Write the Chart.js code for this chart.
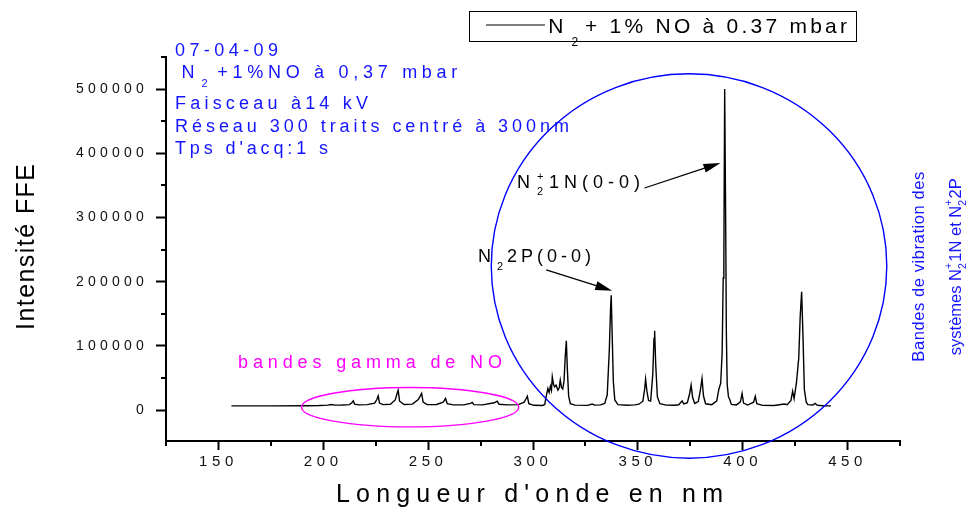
<!DOCTYPE html>
<html>
<head>
<meta charset="utf-8">
<script src="https://cdn.jsdelivr.net/npm/chart.js@4.4.1/dist/chart.umd.min.js"></script>
<style>
html,body{margin:0;padding:0;background:#fff;}
#wrap{width:971px;height:510px;position:relative;}
canvas{display:block;}
</style>
</head>
<body>
<div id="wrap"><canvas id="c" width="971" height="510"></canvas></div>
<script>
// ---------- DATA ----------
const seriesLabel = 'N₂ + 1% NO à 0.37 mbar';
const wavelengths = [
  156.2,175,192,198,202,204,205.5,209,212.5,213.6,214.3,214.9,217,221,224.5,225.6,226.2,226.8,228.5,232,
  234.3,235.2,235.7,236.4,238.5,242.5,245.3,246.4,246.9,247.6,249.5,254,257.2,258.3,259.1,262,267,270.2,271,271.8,
  276,281.5,282.9,283.8,288,293,295.8,296.8,297.3,298,300.5,304.5,305.6,306.2,307.1,307.7,308.3,308.8,309.2,309.8,
  310.3,311.0,311.9,312.5,313.0,313.6,314.2,314.8,315.4,315.9,316.4,317.0,317.8,320,326,328.3,329.4,332.2,334.2,335.4,
  336.4,337.0,337.3,337.7,338.3,339.0,340.5,345,348.5,350.5,352.4,353.2,353.7,354.3,355.1,356.1,357.1,357.7,358.0,358.5,
  359.3,360.5,363.5,367.5,369.5,371.1,371.9,373.6,374.7,375.4,376.1,377.1,378.8,379.8,380.6,381.3,382.3,385.2,387.6,388.6,
  389.5,390.2,390.7,391.0,391.4,391.8,392.2,392.6,393.2,393.8,394.6,397,398.9,399.7,400.4,402.3,405.2,406.0,406.7,409.5,
  415,419.9,421.2,423.0,423.8,424.5,425.6,426.7,427.4,428.1,428.7,429.4,430.3,431.1,433.4,434.5,435.6,438.5,442.1
];
const intensities = [
  6700,6700,6800,7200,7800,8800,7800,8000,8600,11500,14500,9500,8200,8600,11000,17000,22300,11000,8700,9300,
  16000,26000,31200,14000,8900,9500,16500,23000,26000,12500,8600,8800,12500,18200,10000,8300,8300,10500,12000,8700,
  8200,11500,14000,9300,8300,8700,12500,18500,21800,10000,7600,7300,9000,19800,33800,27500,37400,31000,52000,40000,
  36300,39000,31200,35000,46800,35000,33000,46000,85000,108000,62000,22000,10000,7800,7500,9500,7900,8200,10500,24000,
  95000,160000,179000,125000,45000,16000,8600,7700,8300,9300,14000,32000,48300,30000,15000,14000,55000,112000,123700,72000,
  21000,10000,7800,7600,8500,14500,9800,11500,26000,39000,20000,10500,13500,31000,49400,22000,10000,8600,14000,32300,
  42000,90000,205800,230000,500000,330000,120000,40000,21000,16500,9000,8200,13000,26000,11000,8000,12500,21800,10000,7500,
  7300,9500,8600,15000,29600,18000,42000,80600,145000,184500,120000,32000,12500,8600,8000,10500,7600,6800,6700
];
const xTickValues = [150,200,250,300,350,400,450];
const xMinorTickValues = [125,175,225,275,325,375,425,475];
const yTickValues = [0,100000,200000,300000,400000,500000];
const yMinorTickValues = [50000,150000,250000,350000,450000,550000];
const xAxisTitle = "Longueur d'onde en nm";
const yAxisTitle = 'Intensité FFE';
const infoLines = ['07-04-09', '+1%NO à 0,37 mbar', 'Faisceau à14 kV', 'Réseau 300 traits centré à 300nm', "Tps d'acq:1 s"];
const gammaLabel = 'bandes gamma de NO';
// annotation shapes in data coordinates [centre nm, centre intensity, radius nm, radius intensity]
const gammaEllipse = [241.4, 4700, 51.8, 30700];
const bandsEllipse = [374.4, 224500, 94.3, 299300];
// arrows in data coordinates [from nm, from intensity, to nm, to intensity]
const arrow1N = [353.2, 346000, 389.4, 385000];
const arrow2P = [306.3, 218500, 337.8, 186000];

// ---------- DRAWING ----------
const FONT = "'Liberation Sans', Arial, Helvetica, sans-serif";
Chart.defaults.font.family = FONT;

function fitText(ctx, s, x, y, size, color, width, spacing) {
  ctx.save();
  ctx.font = size + 'px ' + FONT;
  ctx.fillStyle = color;
  ctx.textAlign = 'left';
  ctx.textBaseline = 'alphabetic';
  let sp = spacing || 0;
  if (width) {
    ctx.letterSpacing = '0px';
    const w = ctx.measureText(s).width;
    const n = Array.from(s).length;
    sp = n > 1 ? (width - w) / (n - 1) : 0;
  }
  ctx.letterSpacing = sp + 'px';
  ctx.fillText(s, x, y);
  ctx.restore();
}

function richWidth(ctx, segs) {
  let w = 0;
  for (const g of segs) {
    ctx.font = g.size + 'px ' + FONT;
    ctx.letterSpacing = '0px';
    const m = ctx.measureText(g.t).width;
    if (g.adv !== false) w += m + (g.gap || 0);
  }
  return w;
}
function richDraw(ctx, segs, x, y, color) {
  let cx = x;
  ctx.fillStyle = color;
  ctx.textAlign = 'left';
  ctx.textBaseline = 'alphabetic';
  for (const g of segs) {
    ctx.font = g.size + 'px ' + FONT;
    ctx.letterSpacing = '0px';
    ctx.fillText(g.t, cx, y + (g.dy || 0));
    const m = ctx.measureText(g.t).width;
    if (g.adv !== false) cx += m + (g.gap || 0);
  }
}

function arrow(ctx, x1, y1, x2, y2) {
  const a = Math.atan2(y2 - y1, x2 - x1);
  const L = 17, H = 4.5;
  ctx.save();
  ctx.strokeStyle = '#000';
  ctx.fillStyle = '#000';
  ctx.lineWidth = 1.3;
  ctx.beginPath();
  ctx.moveTo(x1, y1);
  ctx.lineTo(x2 - Math.cos(a) * L * 0.8, y2 - Math.sin(a) * L * 0.8);
  ctx.stroke();
  ctx.beginPath();
  ctx.moveTo(x2, y2);
  ctx.lineTo(x2 - Math.cos(a) * L - Math.sin(a) * H, y2 - Math.sin(a) * L + Math.cos(a) * H);
  ctx.lineTo(x2 - Math.cos(a) * L + Math.sin(a) * H, y2 - Math.sin(a) * L - Math.cos(a) * H);
  ctx.closePath();
  ctx.fill();
  ctx.restore();
}

function ellipseData(chart, e, color, lw) {
  const xs = chart.scales.x, ys = chart.scales.y;
  const cx = xs.getPixelForValue(e[0]);
  const cy = ys.getPixelForValue(e[1]);
  const rx = Math.abs(xs.getPixelForValue(e[0] + e[2]) - cx);
  const ry = Math.abs(ys.getPixelForValue(e[1] + e[3]) - cy);
  const ctx = chart.ctx;
  ctx.save();
  ctx.strokeStyle = color;
  ctx.lineWidth = lw;
  ctx.beginPath();
  ctx.ellipse(cx, cy, rx, ry, 0, 0, Math.PI * 2);
  ctx.stroke();
  ctx.restore();
}

const tickSpacingPlugin = {
  id: 'tickSpacing',
  afterLayout(chart) {
    const cfg = { x: '4.6px', y: '4.2px' };
    for (const id of Object.keys(cfg)) {
      const s = chart.scales[id];
      if (s && !s._lsWrapped) {
        const orig = s.drawLabels.bind(s);
        s.drawLabels = function (area) {
          const c = this.ctx;
          c.save();
          c.letterSpacing = cfg[id];
          orig(area);
          c.restore();
        };
        s._lsWrapped = true;
      }
    }
  }
};

const BLUE = '#1414ff';
const MAGENTA = '#ff00ff';

const annotPlugin = {
  id: 'annot',
  afterDraw(chart) {
    const ctx = chart.ctx;
    const xs = chart.scales.x, ys = chart.scales.y;
    // minor ticks
    ctx.save();
    ctx.strokeStyle = '#000';
    ctx.lineWidth = 2;
    ctx.beginPath();
    for (const v of xMinorTickValues) {
      const px = Math.round(xs.getPixelForValue(v));
      ctx.moveTo(px, xs.top); ctx.lineTo(px, xs.top + 5);
    }
    for (const v of yMinorTickValues) {
      const py = Math.round(ys.getPixelForValue(v));
      ctx.moveTo(ys.right, py); ctx.lineTo(ys.right - 5, py);
    }
    ctx.stroke();
    ctx.restore();

    // ellipses
    ellipseData(chart, gammaEllipse, MAGENTA, 1.4);
    ellipseData(chart, bandsEllipse, '#0000ff', 1.4);

    // arrows
    for (const a of [arrow1N, arrow2P]) {
      arrow(ctx, xs.getPixelForValue(a[0]), ys.getPixelForValue(a[1]), xs.getPixelForValue(a[2]), ys.getPixelForValue(a[3]));
    }

    ctx.save();
    // info block (blue)
    fitText(ctx, infoLines[0], 175, 56, 18, BLUE, 103);
    fitText(ctx, 'N', 181.5, 78.3, 18, BLUE, 0, 0);
    fitText(ctx, '2', 201.5, 86.5, 11, BLUE, 0, 0);
    fitText(ctx, infoLines[1], 217.3, 78.3, 18, BLUE, 240);
    fitText(ctx, infoLines[2], 175, 109, 18, BLUE, 193);
    fitText(ctx, infoLines[3], 175, 131.7, 18, BLUE, 394);
    fitText(ctx, infoLines[4], 175, 154.3, 18, BLUE, 153);

    // gamma label
    fitText(ctx, gammaLabel, 238, 368, 18, MAGENTA, 264);

    // peak labels (black)
    fitText(ctx, 'N', 517, 188, 18, '#000', 0, 0);
    fitText(ctx, '+', 537, 180, 11, '#000', 0, 0);
    fitText(ctx, '2', 537, 195, 11, '#000', 0, 0);
    fitText(ctx, '1N(0-0)', 549, 188, 18, '#000', 91);
    fitText(ctx, 'N', 478, 262, 18, '#000', 0, 0);
    fitText(ctx, '2', 497, 270, 11, '#000', 0, 0);
    fitText(ctx, '2P(0-0)', 507, 262, 18, '#000', 84);

    // legend box
    ctx.strokeStyle = '#000';
    ctx.lineWidth = 1;
    ctx.strokeRect(469.5, 11.5, 387, 30);
    ctx.beginPath();
    ctx.lineWidth = 1.2;
    ctx.moveTo(486, 25); ctx.lineTo(545, 25);
    ctx.stroke();
    fitText(ctx, 'N', 548.3, 33.3, 21, '#000', 0, 0);
    fitText(ctx, '2', 571.5, 45.5, 12, '#000', 0, 0);
    fitText(ctx, '+ 1% NO à 0.37 mbar', 585, 33.3, 21, '#000', 262);

    // axis titles
    fitText(ctx, xAxisTitle, 336, 502, 25, '#000', 387);
    ctx.save();
    ctx.translate(34, 247);
    ctx.rotate(-Math.PI / 2);
    fitText(ctx, yAxisTitle, -83, 0, 25, '#000', 166);
    ctx.restore();

    // right vertical texts
    ctx.save();
    ctx.translate(923.5, 266.7);
    ctx.rotate(-Math.PI / 2);
    fitText(ctx, 'Bandes de vibration des', -95, 0, 16.5, BLUE, 190);
    ctx.restore();

    const segs = [
      { t: 'systèmes N', size: 16.5 },
      { t: '+', size: 10.5, dy: -9, adv: false },
      { t: '2', size: 10.5, dy: 5, gap: 1.5 },
      { t: '1N et N', size: 16.5 },
      { t: '+', size: 10.5, dy: -9, adv: false },
      { t: '2', size: 10.5, dy: 5, gap: 1.5 },
      { t: '2P', size: 16.5 }
    ];
    ctx.save();
    ctx.translate(960.5, 266.7);
    ctx.rotate(-Math.PI / 2);
    const rw = richWidth(ctx, segs);
    richDraw(ctx, segs, -rw / 2, 0, BLUE);
    ctx.restore();

    ctx.restore();
  }
};

const points = wavelengths.map((w, i) => ({ x: w, y: intensities[i] }));

new Chart(document.getElementById('c'), {
  type: 'line',
  data: {
    datasets: [{
      label: seriesLabel,
      data: points,
      borderColor: '#000',
      borderWidth: 1.4,
      pointRadius: 0,
      tension: 0,
      fill: false
    }]
  },
  options: {
    responsive: false,
    devicePixelRatio: 1,
    animation: false,
    layout: { padding: { left: 0, top: 57, right: 71, bottom: 0 } },
    plugins: { legend: { display: false }, tooltip: { enabled: false } },
    scales: {
      x: {
        type: 'linear',
        min: 125, max: 475,
        afterBuildTicks: s => { s.ticks = xTickValues.map(v => ({ value: v })); },
        afterFit: s => { s.height = 69; },
        grid: { display: true, drawOnChartArea: false, drawTicks: true, tickLength: 9, tickWidth: 2, tickColor: '#000' },
        border: { display: true, color: '#000', width: 2 },
        ticks: { color: '#111', font: { size: 15 }, padding: 3, maxRotation: 0, autoSkip: false, callback: v => String(v) },
        title: { display: false }
      },
      y: {
        type: 'linear',
        min: -48000, max: 550000,
        afterBuildTicks: s => { s.ticks = yTickValues.map(v => ({ value: v })); },
        afterFit: s => { s.width = 166; },
        grid: { display: true, drawOnChartArea: false, drawTicks: true, tickLength: 10, tickWidth: 2, tickColor: '#000' },
        border: { display: true, color: '#000', width: 2 },
        ticks: { color: '#111', font: { size: 14 }, padding: 8, autoSkip: false, callback: v => String(v) },
        title: { display: false }
      }
    }
  },
  plugins: [tickSpacingPlugin, annotPlugin]
});
</script>
</body>
</html>
